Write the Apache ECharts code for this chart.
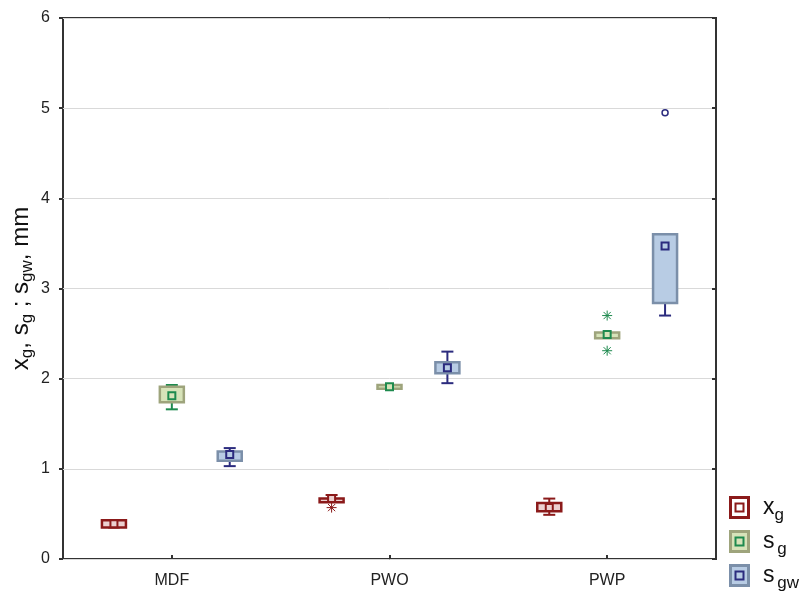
<!DOCTYPE html>
<html>
<head>
<meta charset="utf-8">
<script src="https://cdn.jsdelivr.net/npm/echarts@6/dist/echarts.min.js"></script>
<style>
  html, body { margin: 0; padding: 0; background: #fff; }
  #chart { width: 803px; height: 595px; }
</style>
</head>
<body>
<div id="chart"></div>
<script>
// --- Data ---
// each stat row: [whisker low, box low, mean, box high, whisker high]
const categories = ['MDF', 'PWO', 'PWP'];
const xgStats  = [[0.35, 0.36, 0.39, 0.42, 0.43], [0.64, 0.64, 0.67, 0.66, 0.71], [0.49, 0.54, 0.57, 0.61, 0.67]];
const sgStats  = [[1.66, 1.75, 1.81, 1.90, 1.93], [1.90, 1.90, 1.91, 1.92, 1.92], [2.46, 2.46, 2.49, 2.50, 2.50]];
const sgwStats = [[1.03, 1.10, 1.16, 1.18, 1.23], [1.95, 2.07, 2.12, 2.17, 2.30], [2.70, 2.85, 3.47, 3.59, 3.60]];
// extremes [category index, value]
const xgExtremes  = [[1, 0.57]];
const sgExtremes  = [[2, 2.70], [2, 2.31]];
const sgwOutliers = [[2, 4.95]];

// --- Styles per group ---
const styles = {
    xg:  { shift: -0.266, line: '#8b1a1a', box: '#8b1a1a', fill: '#ecd0d0', mean: '#8b1a1a' },
    sg:  { shift: 0,      line: '#1e8a4e', box: '#9ea47c', fill: '#d7e3b9', mean: '#1e8a4e' },
    sgw: { shift: 0.266,  line: '#2b2b7e', box: '#7b8fa9', fill: '#b8cce4', mean: '#2b2b7e' }
};

function boxRenderer(s) {
    return function (params, api) {
        const cat = api.value(0);
        const band = api.size([1, 0])[0];
        const cx = api.coord([cat, 0])[0] + s.shift * band;
        const y = i => api.coord([cat, api.value(i)])[1];
        const half = 12, cap = 6, m = 3.5;
        const yTop = y(4), yBot = y(2);
        return {
            type: 'group',
            children: [
                { type: 'line', shape: { x1: cx, y1: y(5), x2: cx, y2: y(1) }, style: { stroke: s.line, lineWidth: 2 } },
                { type: 'line', shape: { x1: cx - cap, y1: y(5), x2: cx + cap, y2: y(5) }, style: { stroke: s.line, lineWidth: 2 } },
                { type: 'line', shape: { x1: cx - cap, y1: y(1), x2: cx + cap, y2: y(1) }, style: { stroke: s.line, lineWidth: 2 } },
                { type: 'rect', shape: { x: cx - half, y: yTop - 1, width: half * 2, height: Math.max(yBot - yTop, 0) + 2 },
                  style: { fill: s.fill, stroke: s.box, lineWidth: 2.5 } },
                { type: 'rect', shape: { x: cx - m, y: y(3) - m, width: m * 2, height: m * 2 },
                  style: { fill: s.fill, stroke: s.mean, lineWidth: 2 } }
            ]
        };
    };
}

function pointRenderer(s, kind) {
    return function (params, api) {
        const cat = api.value(0);
        const band = api.size([1, 0])[0];
        const p = api.coord([cat, api.value(1)]);
        const cx = p[0] + s.shift * band, cy = p[1];
        if (kind === 'circle') {
            return { type: 'circle', shape: { cx: cx, cy: cy, r: 3 }, style: { fill: '#fff', stroke: s.mean, lineWidth: 1.5 } };
        }
        const r = 5, d = 3.6;
        return {
            type: 'group',
            children: [
                { type: 'line', shape: { x1: cx - r, y1: cy, x2: cx + r, y2: cy }, style: { stroke: s.line, lineWidth: 1 } },
                { type: 'line', shape: { x1: cx, y1: cy - r, x2: cx, y2: cy + r }, style: { stroke: s.line, lineWidth: 1 } },
                { type: 'line', shape: { x1: cx - d, y1: cy - d, x2: cx + d, y2: cy + d }, style: { stroke: s.line, lineWidth: 1 } },
                { type: 'line', shape: { x1: cx + d, y1: cy - d, x2: cx - d, y2: cy + d }, style: { stroke: s.line, lineWidth: 1 } }
            ]
        };
    };
}

const withIndex = stats => stats.map((row, i) => [i].concat(row));

function legendItem(top, s, main, sub, subGap) {
    return {
        type: 'group', left: 729, top: top,
        children: [
            { type: 'rect', shape: { x: 1.5, y: 1.5, width: 18, height: 20 }, style: { fill: s === styles.xg ? '#fff' : s.fill, stroke: s.box, lineWidth: 3 } },
            { type: 'rect', shape: { x: 6.5, y: 7.5, width: 8, height: 8 }, style: { fill: 'none', stroke: s.mean, lineWidth: 2 } },
            { type: 'text', x: 34, y: -4,
              style: { text: '{m|' + main + '}{g|' + subGap + '}{s|' + sub + '}', fill: '#111',
                       rich: { m: { fontSize: 23, fontFamily: 'Liberation Sans' },
                               g: { fontSize: 10 },
                               s: { fontSize: 17, fontFamily: 'Liberation Sans', padding: [15, 0, 0, 0] } } } }
        ]
    };
}

const chart = echarts.init(document.getElementById('chart'), null, { renderer: 'canvas' });

chart.setOption({
    animation: false,
    backgroundColor: '#fff',
    textStyle: { fontFamily: 'Liberation Sans' },
    grid: { left: 63, right: 87, top: 18, bottom: 36, containLabel: false, outerBoundsMode: 'none',
            show: true, borderColor: '#333', borderWidth: 2, backgroundColor: 'transparent' },
    xAxis: {
        type: 'category',
        data: categories,
        axisLine: { show: false },
        axisTick: { show: true, inside: true, alignWithLabel: true, length: 4, lineStyle: { color: '#333', width: 2 } },
        axisLabel: { fontSize: 16, color: '#222', margin: 14 },
        splitLine: { show: false }
    },
    yAxis: [{
        type: 'value', min: 0, max: 6, interval: 1,
        axisLine: { show: false },
        axisTick: { show: true, inside: false, length: 4, lineStyle: { color: '#333', width: 2 } },
        axisLabel: { fontSize: 16, color: '#222', margin: 13 },
        splitLine: { show: true, lineStyle: { color: '#d9d9d9', width: 1 } },
        name: '{m|x}{s|g}{m|, s}{s|g}{m| ; s}{s|gw}{m|, mm}',
        nameLocation: 'middle',
        nameGap: 27,
        nameMoveOverlap: false,
        nameRotate: 90,
        nameTextStyle: {
            color: '#111',
            rich: {
                m: { fontSize: 24, fontFamily: 'Liberation Sans' },
                s: { fontSize: 17, fontFamily: 'Liberation Sans', padding: [13, 0, 0, 0] }
            }
        }
    }, {
        type: 'value', min: 0, max: 6, interval: 1, position: 'right',
        axisLine: { show: false },
        axisTick: { show: true, inside: true, length: 4, lineStyle: { color: '#333', width: 2 } },
        axisLabel: { show: false },
        splitLine: { show: false }
    }],
    series: [
        { type: 'custom', name: 'xg', data: withIndex(xgStats), encode: { x: 0, y: [1, 2, 3, 4, 5] }, renderItem: boxRenderer(styles.xg), z: 3 },
        { type: 'custom', name: 'sg', data: withIndex(sgStats), encode: { x: 0, y: [1, 2, 3, 4, 5] }, renderItem: boxRenderer(styles.sg), z: 3 },
        { type: 'custom', name: 'sgw', data: withIndex(sgwStats), encode: { x: 0, y: [1, 2, 3, 4, 5] }, renderItem: boxRenderer(styles.sgw), z: 3 },
        { type: 'custom', data: xgExtremes, encode: { x: 0, y: 1 }, renderItem: pointRenderer(styles.xg, 'star'), z: 4 },
        { type: 'custom', data: sgExtremes, encode: { x: 0, y: 1 }, renderItem: pointRenderer(styles.sg, 'star'), z: 4 },
        { type: 'custom', data: sgwOutliers, encode: { x: 0, y: 1 }, renderItem: pointRenderer(styles.sgw, 'circle'), z: 4 }
    ],
    graphic: [
        legendItem(496, styles.xg, 'x', 'g', ''),
        legendItem(530, styles.sg, 's', 'g', ' '),
        legendItem(564, styles.sgw, 's', 'gw', ' ')
    ]
});
</script>
</body>
</html>
